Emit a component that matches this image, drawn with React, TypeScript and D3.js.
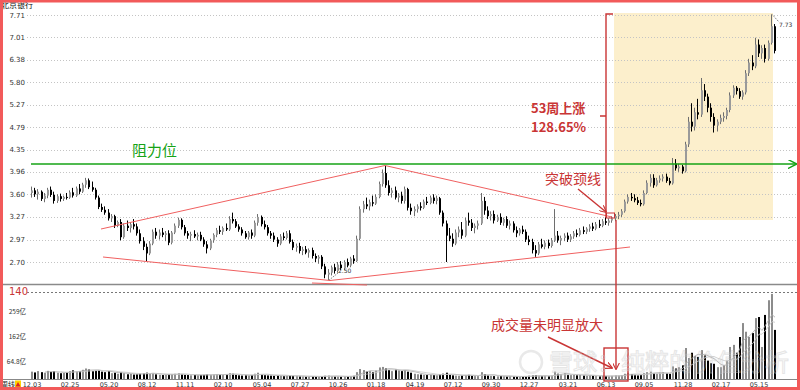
import React from "react";
import * as d3 from "d3";

// weekly candles [open, high, low, close]
const candles: [number, number, number, number][] = [
  [3.62,3.72,3.55,3.66],[3.66,3.70,3.56,3.60],[3.60,3.68,3.52,3.64],[3.64,3.66,3.50,3.53],[3.53,3.62,3.48,3.58],
  [3.58,3.70,3.54,3.67],[3.67,3.72,3.56,3.59],[3.59,3.64,3.46,3.50],[3.50,3.60,3.47,3.57],[3.57,3.61,3.49,3.53],
  [3.53,3.58,3.50,3.56],[3.56,3.62,3.52,3.55],[3.55,3.66,3.53,3.63],[3.63,3.70,3.55,3.58],[3.58,3.72,3.56,3.69],
  [3.69,3.76,3.60,3.64],[3.64,3.78,3.62,3.75],[3.75,3.86,3.70,3.82],[3.82,3.85,3.68,3.71],[3.71,3.80,3.64,3.67],
  [3.67,3.70,3.52,3.55],[3.55,3.58,3.38,3.41],[3.41,3.46,3.34,3.37],[3.37,3.42,3.30,3.33],[3.33,3.38,3.22,3.25],
  [3.25,3.31,3.20,3.28],[3.28,3.30,3.12,3.15],[3.15,3.22,3.13,3.20],[3.20,3.24,2.96,3.00],[3.00,3.18,2.98,3.15],
  [3.15,3.22,3.08,3.12],[3.12,3.20,3.06,3.17],[3.17,3.24,3.10,3.14],[3.14,3.18,3.02,3.05],[3.05,3.10,2.92,2.95],
  [2.95,3.00,2.84,2.88],[2.88,2.92,2.71,2.80],[2.80,2.95,2.78,2.92],[2.92,3.10,2.90,3.07],[3.07,3.12,2.98,3.02],
  [3.02,3.10,2.97,3.06],[3.06,3.12,3.00,3.03],[3.03,3.08,2.95,3.05],[3.05,3.09,2.90,2.93],[2.93,3.08,2.91,3.06],
  [3.06,3.18,3.04,3.15],[3.15,3.26,3.12,3.23],[3.23,3.25,3.10,3.13],[3.13,3.16,3.02,3.05],[3.05,3.08,2.98,3.02],
  [3.02,3.07,2.95,3.04],[3.04,3.09,2.99,3.01],[3.01,3.06,2.96,3.03],[3.03,3.07,2.95,2.97],[2.97,3.00,2.88,2.91],
  [2.91,2.95,2.80,2.86],[2.86,2.98,2.84,2.96],[2.96,3.05,2.93,3.03],[3.03,3.12,3.00,3.09],[3.09,3.15,3.04,3.07],
  [3.07,3.14,3.03,3.12],[3.12,3.18,3.08,3.10],[3.10,3.28,3.08,3.24],[3.24,3.33,3.18,3.21],[3.21,3.24,3.12,3.14],
  [3.14,3.17,3.07,3.10],[3.10,3.13,3.02,3.05],[3.05,3.08,2.98,3.00],[3.00,3.08,2.97,3.06],[3.06,3.10,2.98,3.02],
  [3.02,3.22,3.00,3.19],[3.19,3.31,3.15,3.27],[3.27,3.29,3.14,3.17],[3.17,3.22,3.10,3.13],[3.13,3.16,3.02,3.05],
  [3.05,3.08,2.98,3.02],[3.02,3.06,2.94,2.97],[2.97,3.00,2.88,2.92],[2.92,3.04,2.90,3.01],[3.01,3.06,2.96,2.99],
  [2.99,3.08,2.97,3.05],[3.05,3.09,2.92,2.94],[2.94,2.97,2.84,2.87],[2.87,2.92,2.82,2.89],[2.89,2.93,2.80,2.83],
  [2.83,2.88,2.78,2.85],[2.85,2.89,2.79,2.81],[2.81,2.86,2.75,2.84],[2.84,2.87,2.74,2.77],[2.77,2.80,2.70,2.74],
  [2.74,2.78,2.68,2.76],[2.76,2.78,2.62,2.65],[2.65,2.68,2.52,2.56],[2.56,2.62,2.50,2.58],[2.58,2.66,2.55,2.64],
  [2.64,2.68,2.57,2.60],[2.60,2.70,2.58,2.67],[2.67,2.71,2.61,2.63],[2.63,2.72,2.61,2.70],[2.70,2.74,2.64,2.66],
  [2.66,2.76,2.64,2.74],[2.74,2.78,2.68,2.71],[2.71,3.02,2.70,2.98],[2.98,3.42,2.96,3.38],[3.38,3.50,3.33,3.45],
  [3.45,3.55,3.38,3.42],[3.42,3.52,3.36,3.48],[3.48,3.58,3.42,3.46],[3.46,3.60,3.44,3.56],[3.56,3.80,3.54,3.76],
  [3.76,4.00,3.72,3.94],[3.94,4.06,3.70,3.74],[3.74,3.82,3.58,3.62],[3.62,3.70,3.55,3.66],[3.66,3.72,3.52,3.55],
  [3.55,3.62,3.48,3.58],[3.58,3.64,3.46,3.50],[3.50,3.72,3.46,3.68],[3.68,3.70,3.36,3.40],[3.40,3.46,3.30,3.35],
  [3.35,3.42,3.28,3.38],[3.38,3.45,3.33,3.42],[3.42,3.48,3.36,3.40],[3.40,3.52,3.38,3.49],[3.49,3.56,3.44,3.47],
  [3.47,3.58,3.45,3.55],[3.55,3.60,3.46,3.50],[3.50,3.58,3.45,3.54],[3.54,3.56,3.30,3.33],[3.33,3.36,3.14,3.18],
  [3.18,3.22,2.70,3.02],[3.02,3.12,2.95,2.98],[2.98,3.05,2.88,2.92],[2.92,3.10,2.90,3.06],[3.06,3.14,3.00,3.10],
  [3.10,3.20,2.98,3.02],[3.02,3.26,3.00,3.22],[3.22,3.33,3.15,3.19],[3.19,3.24,3.08,3.12],[3.12,3.18,3.05,3.15],
  [3.15,3.22,3.10,3.18],[3.18,3.62,3.16,3.50],[3.50,3.56,3.30,3.36],[3.36,3.42,3.24,3.28],[3.28,3.35,3.22,3.31],
  [3.31,3.36,3.18,3.22],[3.22,3.30,3.20,3.27],[3.27,3.32,3.16,3.19],[3.19,3.26,3.15,3.24],[3.24,3.28,3.12,3.15],
  [3.15,3.22,3.10,3.18],[3.18,3.21,3.06,3.09],[3.09,3.14,3.00,3.05],[3.05,3.12,3.02,3.10],[3.10,3.15,3.04,3.07],
  [3.07,3.10,2.94,2.97],[2.97,3.02,2.90,2.94],[2.94,2.98,2.80,2.84],[2.84,2.90,2.76,2.80],[2.80,2.94,2.78,2.91],
  [2.91,2.98,2.86,2.88],[2.88,2.96,2.85,2.93],[2.93,2.97,2.86,2.89],[2.89,2.99,2.87,2.96],[2.96,3.38,2.94,3.02],
  [3.02,3.08,2.93,2.96],[2.96,3.02,2.90,2.99],[2.99,3.05,2.95,3.02],[3.02,3.06,2.94,2.97],[2.97,3.04,2.94,3.01],
  [3.01,3.08,2.98,3.05],[3.05,3.10,3.00,3.03],[3.03,3.12,3.01,3.09],[3.09,3.14,3.04,3.07],[3.07,3.13,3.04,3.11],
  [3.11,3.17,3.07,3.14],[3.14,3.19,3.08,3.11],[3.11,3.20,3.09,3.17],[3.17,3.23,3.12,3.15],[3.15,3.24,3.13,3.21],
  [3.21,3.27,3.16,3.19],[3.19,3.25,3.15,3.22],[3.22,3.28,3.19,3.25],[3.25,3.31,3.21,3.28],[3.28,3.34,3.24,3.30],
  [3.30,3.38,3.27,3.35],[3.35,3.52,3.33,3.49],[3.49,3.60,3.46,3.56],[3.56,3.62,3.50,3.54],[3.54,3.60,3.48,3.51],
  [3.51,3.56,3.44,3.47],[3.47,3.52,3.42,3.45],[3.45,3.66,3.43,3.62],[3.62,3.82,3.60,3.78],[3.78,3.92,3.72,3.86],
  [3.86,3.92,3.70,3.74],[3.74,3.86,3.72,3.82],[3.82,3.90,3.78,3.85],[3.85,3.92,3.80,3.88],[3.88,3.93,3.78,3.81],
  [3.81,3.86,3.74,3.77],[3.77,4.20,3.75,4.10],[4.10,4.18,3.98,4.02],[4.02,4.10,3.96,4.05],[4.05,4.08,3.93,3.97],
  [3.97,4.50,3.95,4.45],[4.45,5.00,4.40,4.90],[4.90,5.30,4.70,4.80],[4.80,5.20,4.72,5.10],[5.10,5.40,4.95,5.05],
  [5.05,5.90,5.00,5.60],[5.60,5.75,5.35,5.45],[5.45,5.52,5.10,5.20],[5.20,5.30,4.90,5.00],[5.00,5.08,4.68,4.82],
  [4.82,4.95,4.70,4.90],[4.90,5.05,4.85,4.98],[4.98,5.10,4.90,5.02],[5.02,5.20,4.95,5.15],[5.15,5.55,5.10,5.48],
  [5.48,5.72,5.42,5.66],[5.66,5.70,5.50,5.58],[5.58,5.65,5.40,5.45],[5.45,5.60,5.38,5.55],[5.55,6.10,5.50,6.02],
  [6.02,6.40,5.95,6.30],[6.30,6.50,6.10,6.20],[6.20,7.00,6.15,6.80],[6.80,6.95,6.45,6.55],[6.55,6.78,6.40,6.70],
  [6.70,6.80,6.30,6.40],[6.40,6.92,6.35,6.85],[6.85,7.73,6.80,7.35],[7.35,7.42,6.55,6.62],
];

// weekly volume (亿)
const volumes: number[] = [
  28,25,30,26,24,31,27,29,24,22,23,25,30,33,28,30,35,40,36,30,32,34,28,
  26,30,22,24,20,25,22,18,19,17,18,20,22,24,20,23,18,16,15,16,17,18,20,22,18,16,15,14,15,14,15,16,18,16,17,19,16,17,
  18,22,20,16,14,13,14,13,15,20,24,17,15,14,13,12,13,12,11,12,13,12,11,10,10,9,10,10,9,9,10,12,13,11,10,10,9,10,9,11,
  12,26,38,34,28,30,26,32,44,46,40,34,30,36,33,30,34,28,24,20,
  18,17,16,15,16,15,14,18,20,24,16,14,13,12,13,14,16,12,11,11,
  26,18,14,12,11,10,11,10,9,10,9,10,9,10,11,12,13,14,12,11,12,11,13,28,20,18,22,16,15,17,14,15,13,12,14,12,11,10,12,11,
  10,12,14,13,15,20,24,18,16,14,15,22,26,28,22,20,24,26,22,20,
  48,40,45,52,118,80,100,88,84,110,90,70,60,58,45,
  45,52,70,122,130,100,160,213,180,160,175,232,236,122,244,300,324,187,
];

const xLabels = ["12.03","02.25","05.20","08.12","11.11","02.10","05.04","07.27","10.26","01.18",
  "04.19","07.12","09.30","12.27","03.21","06.13","09.05","11.28","02.17","05.15"];
const xLabelStep = 12;

const yTicks = [7.71, 7.01, 6.38, 5.80, 5.27, 4.79, 4.35, 3.96, 3.60, 3.27, 2.97, 2.70];
const volTicks = [259, 162, 64.8];
const volTickText = ["259亿", "162亿", "64.8亿"];

const CJK = "'Noto Sans CJK SC', 'Noto Sans', sans-serif";
const NUM = "'DejaVu Sans', sans-serif";
const RED = "#c93535";
const LINE_RED = "#f06060";
const GREEN = "#16a316";

export default function App() {
  const n = candles.length;
  const x = d3.scaleBand<number>().domain(d3.range(n)).range([30.4, 776.6]);
  const step = x.step();
  const cx = (i: number) => Math.round((x(i) as number) + step / 2);
  const y = d3.scaleLog().domain([2.70, 7.71]).range([262, 15]);
  const yv = d3.scaleLinear().domain([0, 259]).range([379, 311]);

  const ma = (k: number) =>
    volumes.map((_, i) => (i < k - 1 ? null : (d3.mean(volumes.slice(i - k + 1, i + 1)) as number)));
  const volLine = d3
    .line<number | null>()
    .defined((d) => d !== null)
    .x((_, i) => cx(i))
    .y((d) => yv(d as number));

  return (
    <svg width={800} height={390} style={{ position: "absolute", left: 0, top: 0, background: "#fff" }}>
      <defs>
        <marker id="arrRed" viewBox="0 0 10 10" refX="9" refY="5" markerWidth="7" markerHeight="7" orient="auto-start-reverse" markerUnits="userSpaceOnUse">
          <path d="M0,0 L10,5 L0,10" fill="none" stroke={RED} strokeWidth={1.6} />
        </marker>
        <marker id="arrGreen" viewBox="0 0 10 10" refX="9" refY="5" markerWidth="9" markerHeight="9" orient="auto" markerUnits="userSpaceOnUse">
          <path d="M0,0 L10,5 L0,10" fill="none" stroke={GREEN} strokeWidth={1.6} />
        </marker>
      </defs>
      <rect x={0} y={0} width={800} height={390} fill="#fff" />

      {/* highlight zone */}
      <rect x={cx(183) - 2} y={13} width={cx(232) - cx(183) + 3} height={207} fill="#fcefcc" />

      {/* grid */}
      {yTicks.map((t) => (
        <g key={t}>
          <line x1={27} x2={797} y1={Math.round(y(t)) + 0.5} y2={Math.round(y(t)) + 0.5} stroke="#c4c4c4" strokeDasharray="1,2" />
          <text x={25} y={y(t) + 2.5} fontSize={7} fontFamily={NUM} fill="#333" textAnchor="end">{t.toFixed(2)}</text>
        </g>
      ))}

      {/* panel separators */}
      <line x1={0} x2={800} y1={284.5} y2={284.5} stroke="#8a8a8a" strokeWidth={1.5} />
      <line x1={27} x2={797} y1={292.5} y2={292.5} stroke="#777" strokeDasharray="2,2" />
      <text x={9} y={295} fontSize={10} fontFamily={NUM} fill={RED}>140</text>
      <line x1={0} x2={800} y1={379.5} y2={379.5} stroke="#888" />
      {volTicks.map((t, i) => (
        <text key={t} x={26} y={yv(t) + 2.5} fontSize={6.5} fontFamily={CJK} fill="#333" textAnchor="end">{volTickText[i]}</text>
      ))}

      {/* candles */}
      {candles.map(([o, h, l, c], i) => {
        const up = c >= o;
        const X = cx(i);
        const top = Math.min(y(o), y(c));
        const bh = Math.max(1, Math.abs(y(o) - y(c)));
        return (
          <g key={i}>
            <line x1={X - 0.5} x2={X - 0.5} y1={y(h)} y2={y(l)} stroke={up ? "#6e6e6e" : "#000"} strokeWidth={1} />
            <rect x={X - 1} y={top} width={2} height={bh} fill={up ? "#9a9a9a" : "#000"} />
          </g>
        );
      })}

      {/* volume bars */}
      {volumes.map((v, i) => {
        const [o, , , c] = candles[i];
        const up = c >= o;
        return <rect key={i} x={cx(i) - 1} y={yv(v)} width={2} height={379 - yv(v)} fill={up ? "#8c8c8c" : "#000"} />;
      })}
      <path d={volLine(ma(5)) || ""} fill="none" stroke="#a8a8a8" strokeWidth={0.8} />
      <path d={volLine(ma(10)) || ""} fill="none" stroke="#c8c8c8" strokeWidth={0.8} />

      {/* x labels */}
      {xLabels.map((lab, k) => (
        <text key={lab + k} x={cx(k * xLabelStep)} y={387} fontSize={6.5} fontFamily={NUM} fill="#333" textAnchor="middle">{lab}</text>
      ))}
      <text x={1} y={387} fontSize={7} fontFamily={CJK} fill="#222">周线</text>
      <rect x={15} y={380.5} width={6} height={7} fill="#ffd400" />
      <path d="M18,382 L20.5,386.5 L15.5,386.5 Z" fill="#d22" />

      {/* title */}
      <text x={1} y={8} fontSize={8} fontFamily={CJK} fill="#111">北京银行</text>

      {/* resistance line */}
      <line x1={31} x2={796} y1={164} y2={164} stroke={GREEN} strokeWidth={1.6} markerEnd="url(#arrGreen)" />
      <text x={132} y={156} fontSize={15} fontFamily={CJK} fill={GREEN}>阻力位</text>

      {/* pattern lines */}
      <g stroke={LINE_RED} strokeWidth={1} fill="none">
        <line x1={101} y1={229} x2={385} y2={165.5} />
        <line x1={385} y1={165.5} x2={612} y2={217} />
        <line x1={103} y1={257} x2={330} y2={280.5} />
        <line x1={330} y1={280.5} x2={630} y2={247} />
        <line x1={312} y1={283} x2={367} y2={285} />
      </g>

      {/* high / low marks */}
      <line x1={cx(232)} y1={y(7.73)} x2={779} y2={22} stroke="#555" strokeWidth={0.7} strokeDasharray="1.5,1" />
      <text x={779} y={27} fontSize={6} fontFamily={NUM} fill="#333">7.73</text>
      <line x1={cx(93)} y1={y(2.50)} x2={338} y2={273} stroke="#555" strokeWidth={0.7} strokeDasharray="1.5,1" />
      <text x={338} y={273} fontSize={6} fontFamily={NUM} fill="#333">2.50</text>

      {/* bracket 53 weeks */}
      <path d="M613,14 H606 V218 M606,116 H600" fill="none" stroke={RED} strokeWidth={1.4} />
      <rect x={606.5} y={213} width={8} height={5} fill="none" stroke={RED} strokeWidth={1} />
      <text x={531} y={113} fontSize={13} fontFamily={CJK} fontWeight="bold" fill={RED}>53周上涨</text>
      <text x={531} y={132} fontSize={13} fontFamily={CJK} fontWeight="bold" fill={RED}>128.65%</text>

      <text x={545} y={184} fontSize={14} fontFamily={CJK} fill={RED}>突破颈线</text>
      <line x1={578} y1={189} x2={606} y2={212} stroke={RED} strokeWidth={1.4} markerEnd="url(#arrRed)" />

      {/* volume annotation */}
      <line x1={616} y1={220} x2={616} y2={369} stroke={RED} strokeWidth={1.4} markerEnd="url(#arrRed)" />
      <rect x={604} y={348} width={24} height={33} fill="none" stroke={RED} strokeWidth={1.4} />
      <text x={491} y={330} fontSize={14} fontFamily={CJK} fill={RED}>成交量未明显放大</text>
      <line x1={548} y1={337} x2={612} y2={368} stroke={RED} strokeWidth={1.4} markerEnd="url(#arrRed)" />

      {/* watermark */}
      <g opacity={0.45}>
        <circle cx={531} cy={362} r={11} fill="none" stroke="#cfcfcf" strokeWidth={2.5} />
        <text x={549} y={371} fontSize={24} fontFamily={CJK} fill="none" stroke="#c8c8c8" strokeWidth={1}>雪球：纯粹的价值分析</text>
      </g>

      {/* outer frame */}
      <rect x={1.5} y={1} width={797} height={387.5} fill="none" stroke="#f25a5a" strokeWidth={3} />
    </svg>
  );
}
